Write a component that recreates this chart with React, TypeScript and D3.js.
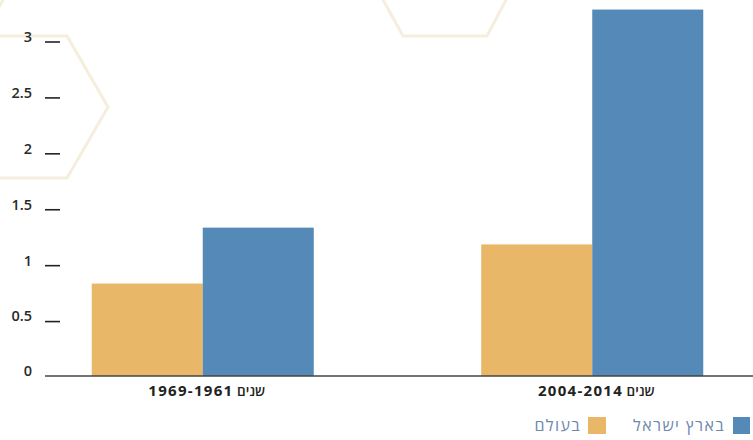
import React from "react";
import * as d3 from "d3";

const categories = ["שנים 1969-1961", "שנים 2004-2014"];
const seriesNames = ["בעולם", "בארץ ישראל"];
const worldValues = [0.84, 1.19];
const israelValues = [1.34, 3.29];
const yTicks = [0, 0.5, 1, 1.5, 2, 2.5, 3];
const colors = ["#e8b767", "#5589b8"];

const W = 753;
const H = 440;

export default function App() {
  const x = d3.scaleBand<string>().domain(categories).range([45, 750]).paddingInner(0.43).paddingOuter(0.12);
  const inner = d3.scaleBand<string>().domain(seriesNames).range([0, x.bandwidth()]).padding(0);
  const y = d3.scaleLinear().domain([0, 3]).range([377.5, 42]);
  const series = [worldValues, israelValues];
  const hexStroke = "#f6eedd";
  const base = 376;

  return (
    <svg width={W} height={H} style={{ position: "absolute", left: 0, top: 0, background: "#fff" }}
      fontFamily="'Open Sans', 'Noto Sans', sans-serif">
      {/* decorative hexagons */}
      <path d="M -40 36 L 67 36 L 108 107 L 67 178 L -40 178" fill="none" stroke={hexStroke} strokeWidth={3} />
      <path d="M -5 14 L 6 -5" fill="none" stroke={hexStroke} strokeWidth={3} />
      <path d="M 382 -2 L 403 36 L 487 36 L 507 -2" fill="none" stroke={hexStroke} strokeWidth={3} />

      {/* y ticks */}
      {yTicks.map((t) => (
        <g key={t}>
          {t !== 0 && <line x1={45} x2={60} y1={y(t)} y2={y(t)} stroke="#222" strokeWidth={1.6} />}
          <text x={32} y={(t === 0 ? base : y(t)) - 4} textAnchor="end" dominantBaseline="middle" fontSize={14.5}
            fontWeight={600} fill="#2a2a2a">
            {String(t)}
          </text>
        </g>
      ))}

      {/* bars */}
      {categories.map((c, i) =>
        seriesNames.map((s, j) => {
          const v = series[j][i];
          return (
            <rect key={c + s} x={(x(c) ?? 0) + (inner(s) ?? 0)} y={y(v)} width={inner.bandwidth()} height={base - y(v)}
              fill={colors[j]} />
          );
        })
      )}

      {/* baseline */}
      <line x1={45} x2={753} y1={base} y2={base} stroke="#444" strokeWidth={1.4} />

      {/* category labels */}
      {categories.map((c) => {
        const k = c.indexOf(" ");
        const word = c.slice(0, k);
        const num = c.slice(k + 1);
        return (
          <text key={c} x={(x(c) ?? 0) + x.bandwidth() / 2 + 4} y={396} textAnchor="middle" fill="#222">
            <tspan fontSize={13.5} fontWeight={600}>{word + " "}</tspan>
            <tspan fontSize={15} fontWeight={700} letterSpacing={1.3}>{num}</tspan>
          </text>
        );
      })}

      {/* legend */}
      <rect x={733} y={417} width={17} height={17} fill={colors[1]} />
      <text x={725} y={431} textAnchor="end" fontSize={16} letterSpacing={1.4} fill="#6d88ad">{seriesNames[1]}</text>
      <rect x={588} y={417} width={18} height={17} fill={colors[0]} />
      <text x={581} y={431} textAnchor="end" fontSize={16} letterSpacing={1.4} fill="#6d88ad">{seriesNames[0]}</text>
    </svg>
  );
}
